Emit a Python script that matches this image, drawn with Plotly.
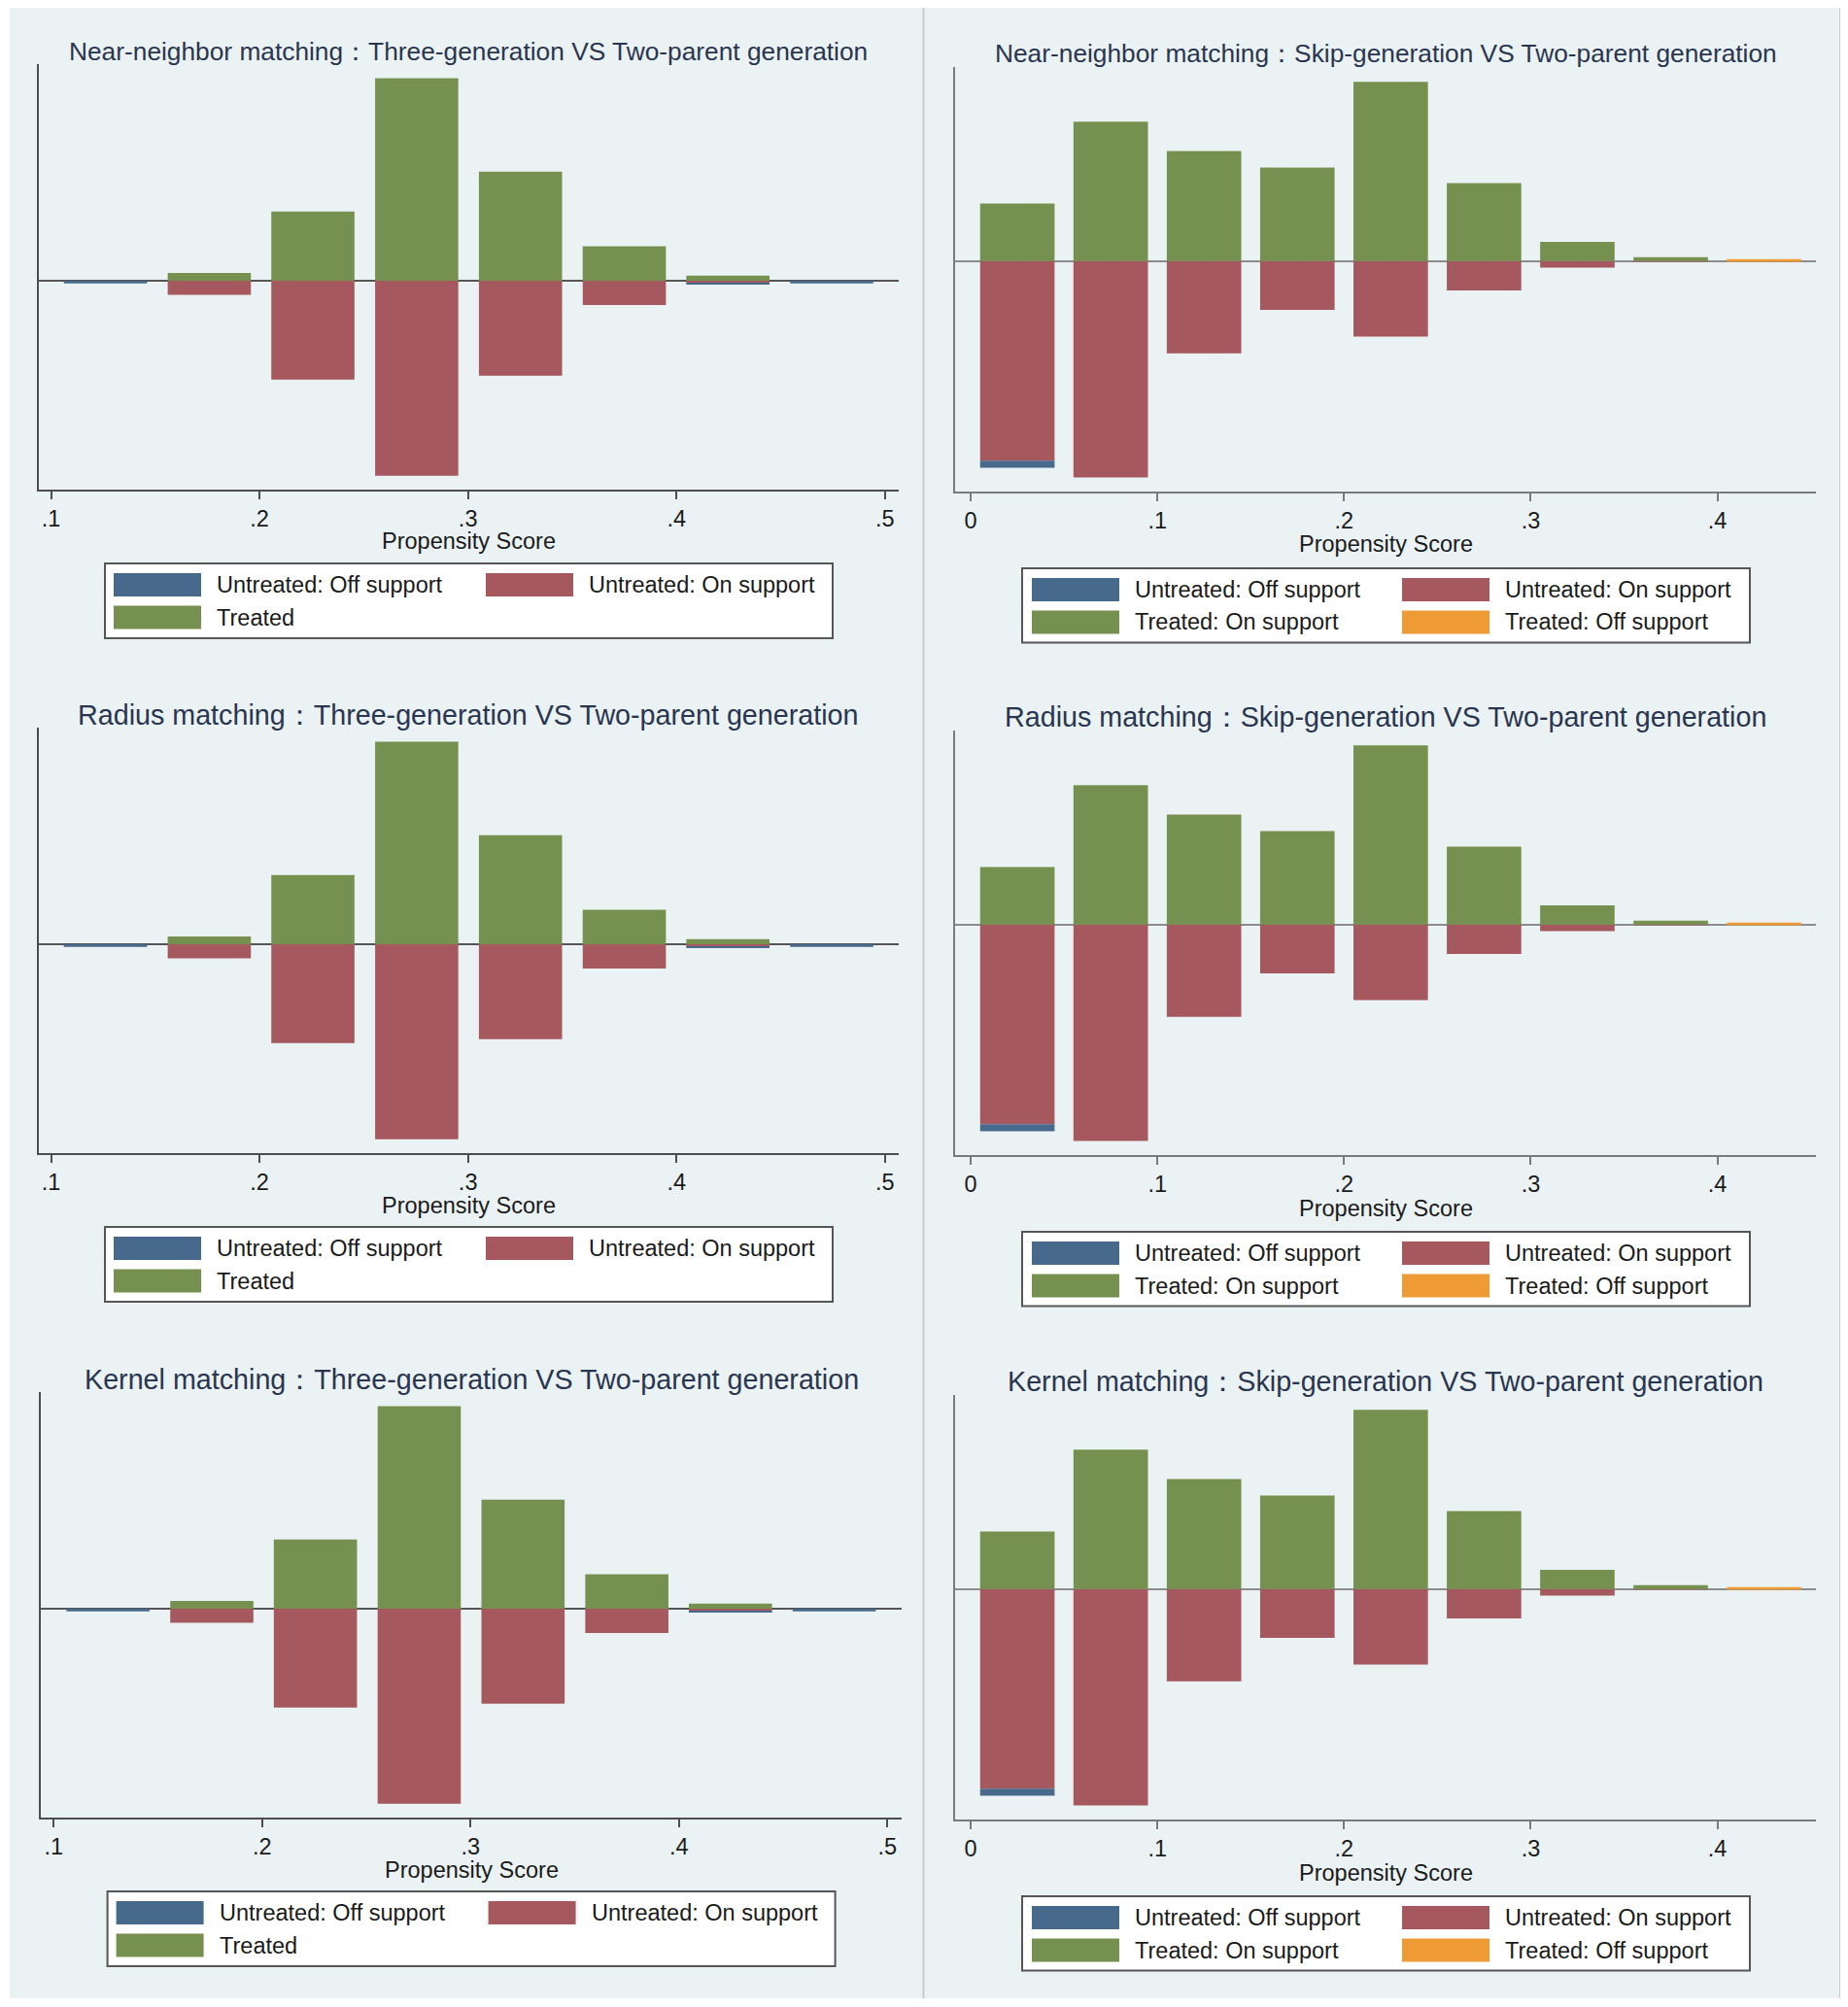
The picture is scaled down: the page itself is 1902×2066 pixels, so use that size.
import plotly.graph_objects as go

W, H = 1902, 2066
OFF = 8  # the page body margin shifts the figure by this many pixels

methods = ["Near-neighbor matching", "Radius matching", "Kernel matching"]
groups = ["Three-generation", "Skip-generation"]
base_group = "Two-parent generation"

# left column: Three-generation VS Two-parent generation (bin centres, bar heights)
left_x = [0.1261, 0.1759, 0.2256, 0.2754, 0.3252, 0.3750, 0.4247, 0.4745]
left_treated = [0, 0.6, 5.4, 15.8, 8.5, 2.7, 0.4, 0]
left_untreated_on = [0, -1.1, -7.7, -15.2, -7.4, -1.9, -0.2, 0]
left_untreated_off = [-0.2, 0, 0, 0, 0, 0, -0.1, -0.2]

# right column: Skip-generation VS Two-parent generation
right_x = [0.025, 0.075, 0.125, 0.175, 0.225, 0.275, 0.325, 0.375, 0.425]
right_treated_on = [4.5, 10.9, 8.6, 7.3, 14.0, 6.1, 1.5, 0.3, 0]
right_treated_off = [0, 0, 0, 0, 0, 0, 0, 0, 0.15]
right_untreated_on = [-15.6, -16.9, -7.2, -3.8, -5.9, -2.3, -0.5, -0.05, 0]
right_untreated_off = [-0.55, 0, 0, 0, 0, 0, 0, 0, 0]

left_ticks = [0.1, 0.2, 0.3, 0.4, 0.5]
left_ticktext = [".1", ".2", ".3", ".4", ".5"]
right_ticks = [0, 0.1, 0.2, 0.3, 0.4]
right_ticktext = ["0", ".1", ".2", ".3", ".4"]

BLUE = "#47698C"
RED = "#A5595E"
GREEN = "#76914F"
ORANGE = "#EE9A35"
BG = "#EAF2F3"
FONT = "Liberation Sans, Arial, sans-serif"


def px(x):
    return (x - OFF) / W


def py(y):
    return 1 - (y - OFF) / H


# geometry of the first row, in page pixels
geo = [
    dict(x0=39.5, x1=925.3, top=66, bottom=503.5, title_y=52.7, ax_title_y=557.5,
         legend=(108, 857, 580, 657), sw_x=[117, 500], xr=[0.0939, 0.5068],
         yr=[-16.25, 16.9], axis_col="#4D4D4D", zero_col="#555555"),
    dict(x0=983.3, x1=1869, top=68.5, bottom=506, title_y=55.4, ax_title_y=560.5,
         legend=(1052, 1801, 585, 661.5), sw_x=[1062, 1443], xr=[-0.0082, 0.4528],
         yr=[-18.0, 15.2], axis_col="#7A7A7A", zero_col="#8C8C8C"),
]
row_off = [0, 683, 1367]
row_dx = [[0, 0], [0, 0], [2.6, 0]]
title_size = [26.3, 28.7, 28.7]

fig = go.Figure()
shapes = []
annotations = []
axes = {}

# column backgrounds and separators
shapes.append(dict(type="rect", xref="paper", yref="paper", layer="below",
                   x0=px(10), x1=px(949.5), y0=py(2057), y1=py(8),
                   fillcolor=BG, line=dict(width=0)))
shapes.append(dict(type="rect", xref="paper", yref="paper", layer="below",
                   x0=px(951.5), x1=px(1894), y0=py(2057), y1=py(8),
                   fillcolor=BG, line=dict(width=0)))
for lx in [950.5, 1894]:
    shapes.append(dict(type="line", xref="paper", yref="paper", layer="below",
                       x0=px(lx), x1=px(lx), y0=py(2057), y1=py(8),
                       line=dict(color="#C4C8CA", width=2)))

for r, method in enumerate(methods):
    for c in range(2):
        n = r * 2 + c + 1
        g = geo[c]
        dy = row_off[r]
        dx = row_dx[r][c]
        xa = "x" if n == 1 else f"x{n}"
        ya = "y" if n == 1 else f"y{n}"

        if c == 0:
            series = [
                ("Untreated: On support", left_x, left_untreated_on, RED),
                ("Untreated: Off support", left_x, left_untreated_off, BLUE),
                ("Treated", left_x, left_treated, GREEN),
            ]
            legend_items = [("Untreated: Off support", BLUE), ("Untreated: On support", RED),
                            ("Treated", GREEN)]
            tv, tt = left_ticks, left_ticktext
        else:
            series = [
                ("Untreated: On support", right_x, right_untreated_on, RED),
                ("Untreated: Off support", right_x, right_untreated_off, BLUE),
                ("Treated: On support", right_x, right_treated_on, GREEN),
                ("Treated: Off support", right_x, right_treated_off, ORANGE),
            ]
            legend_items = [("Untreated: Off support", BLUE), ("Untreated: On support", RED),
                            ("Treated: On support", GREEN), ("Treated: Off support", ORANGE)]
            tv, tt = right_ticks, right_ticktext

        for name, xs, ys, col in series:
            fig.add_trace(go.Bar(x=xs, y=ys, width=0.0399, name=name,
                                 marker=dict(color=col, line=dict(width=0)),
                                 showlegend=False, xaxis=xa, yaxis=ya))

        x0, x1 = g["x0"] + dx, g["x1"] + dx
        top, bottom = g["top"] + dy, g["bottom"] + dy
        axes["xaxis" if n == 1 else f"xaxis{n}"] = dict(
            domain=[px(x0), px(x1)], anchor=ya, range=g["xr"],
            tickvals=tv, ticktext=tt, ticks="outside", ticklen=8, tickwidth=2,
            tickcolor=g["axis_col"], showline=True, linecolor=g["axis_col"], linewidth=2,
            showgrid=False, zeroline=False, ticklabelstandoff=0,
            tickfont=dict(size=23.5, color="#1A1A1A", family=FONT))
        axes["yaxis" if n == 1 else f"yaxis{n}"] = dict(
            domain=[py(bottom), py(top)], anchor=xa, range=g["yr"],
            showticklabels=False, ticks="", showline=True, linecolor=g["axis_col"],
            linewidth=2, showgrid=False, zeroline=True, zerolinecolor=g["zero_col"],
            zerolinewidth=2)

        cx = px((x0 + x1) / 2)
        annotations.append(dict(text=f"{method}：{groups[c]} VS {base_group}",
                                xref="paper", yref="paper", x=cx, y=py(g["title_y"] + dy),
                                xanchor="center", yanchor="middle", showarrow=False,
                                font=dict(size=title_size[r], color="#2A3550", family=FONT)))
        annotations.append(dict(text="Propensity Score", xref="paper", yref="paper",
                                x=cx, y=py(g["ax_title_y"] + dy), xanchor="center",
                                yanchor="middle", showarrow=False,
                                font=dict(size=23.5, color="#1A1A1A", family=FONT)))

        lx0, lx1, ly0, ly1 = g["legend"]
        lx0, lx1, ly0, ly1 = lx0 + dx, lx1 + dx, ly0 + dy, ly1 + dy
        shapes.append(dict(type="rect", xref="paper", yref="paper",
                           x0=px(lx0), x1=px(lx1), y0=py(ly1), y1=py(ly0),
                           fillcolor="white", line=dict(color="#555555", width=2)))
        for i, (label, col) in enumerate(legend_items):
            lr, lc = divmod(i, 2)
            sx = g["sw_x"][lc] + dx
            sy = ly0 + 10 + lr * 33.5
            shapes.append(dict(type="rect", xref="paper", yref="paper",
                               x0=px(sx), x1=px(sx + 90), y0=py(sy + 24), y1=py(sy),
                               fillcolor=col, line=dict(width=0)))
            annotations.append(dict(text=label, xref="paper", yref="paper",
                                    x=px(sx + 104), y=py(sy + 12), xanchor="left",
                                    yanchor="middle", showarrow=False,
                                    font=dict(size=23.5, color="#1A1A1A", family=FONT)))

fig.update_layout(
    width=W, height=H, margin=dict(l=0, r=0, t=0, b=0),
    paper_bgcolor="white", plot_bgcolor="white",
    barmode="relative", showlegend=False,
    font=dict(family=FONT),
    shapes=shapes, annotations=annotations,
    **axes)

fig.write_html("out.html")
